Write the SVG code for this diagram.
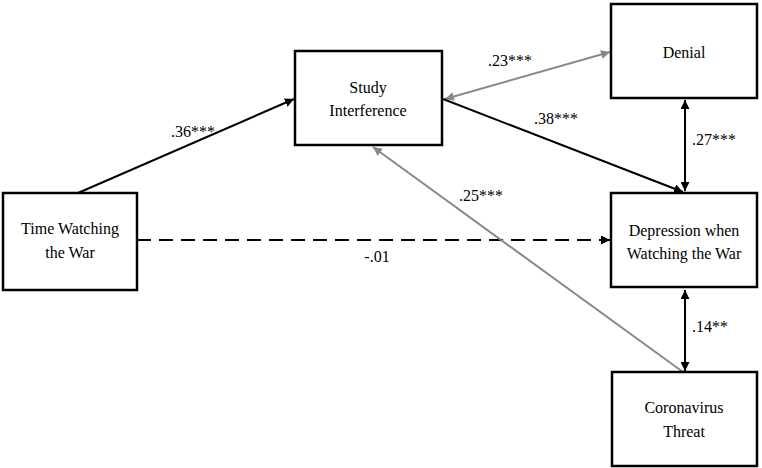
<svg xmlns="http://www.w3.org/2000/svg" width="762" height="468" viewBox="0 0 762 468">
<defs>
<marker id="ab" viewBox="0 0 10 10" refX="10" refY="5" markerWidth="9" markerHeight="9" markerUnits="userSpaceOnUse" orient="auto-start-reverse"><path d="M0,0 L10,5 L0,10 z" fill="#000"/></marker>
<marker id="ag" viewBox="0 0 10 10" refX="10" refY="5" markerWidth="9" markerHeight="9" markerUnits="userSpaceOnUse" orient="auto-start-reverse"><path d="M0,0 L10,5 L0,10 z" fill="#888"/></marker>
</defs>
<style>
rect{fill:#fff;stroke:#000;stroke-width:2.5}
text{font-family:"Liberation Serif",serif;font-size:16px;fill:#000;text-anchor:middle}
.k{stroke:#000;stroke-width:2;fill:none}
.g{stroke:#888;stroke-width:2;fill:none}
</style>
<rect width="762" height="468" style="fill:#fff;stroke:none"/>
<g id="connectors">
<line class="k" x1="78" y1="193" x2="294" y2="99" marker-end="url(#ab)"/>
<line class="k" x1="137" y1="240" x2="610" y2="240" stroke-dasharray="14,8" stroke-width="2.5" marker-end="url(#ab)"/>
<line class="g" x1="445" y1="99" x2="610" y2="52" marker-start="url(#ag)" marker-end="url(#ag)"/>
<line class="k" x1="443" y1="99" x2="683" y2="192" marker-end="url(#ab)"/>
<line class="k" x1="685" y1="100" x2="685" y2="191" marker-start="url(#ab)" marker-end="url(#ab)"/>
<line class="g" x1="373" y1="147" x2="683" y2="372" marker-start="url(#ag)"/>
<line class="k" x1="685" y1="290" x2="685" y2="371" marker-start="url(#ab)" marker-end="url(#ab)"/>
<text x="193" y="137">.36***</text>
<text x="377" y="262">-.01</text>
<text x="510" y="66">.23***</text>
<text x="556" y="124">.38***</text>
<text x="714" y="145">.27***</text>
<text x="481" y="201">.25***</text>
<text x="710" y="332">.14**</text>
</g>
<g id="time"><rect x="3" y="193" width="134" height="97"/><text x="70" y="234">Time Watching</text><text x="70" y="258">the War</text></g>
<g id="study"><rect x="295" y="51" width="147" height="94"/><text x="368" y="93">Study</text><text x="368" y="116">Interference</text></g>
<g id="denial"><rect x="611" y="4" width="146" height="94"/><text x="684" y="58">Denial</text></g>
<g id="depression"><rect x="611" y="193" width="146" height="94"/><text x="684" y="236">Depression when</text><text x="684" y="259">Watching the War</text></g>
<g id="corona"><rect x="612" y="372" width="145" height="94"/><text x="684" y="413">Coronavirus</text><text x="684" y="437">Threat</text></g>
</svg>
